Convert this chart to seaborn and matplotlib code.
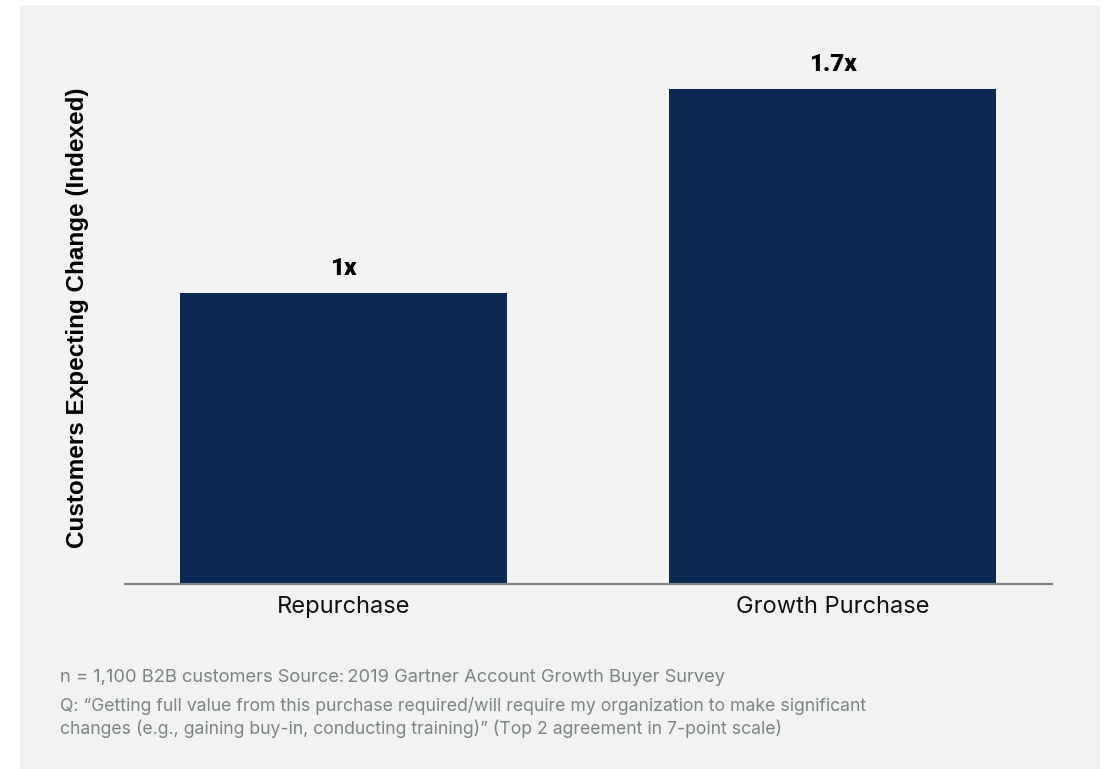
import matplotlib
matplotlib.use("Agg")
import matplotlib.pyplot as plt
from matplotlib.patches import Rectangle
import seaborn as sns
import pandas as pd

categories = ["Repurchase", "Growth Purchase"]
values = [1.0, 1.7]
y_label = "Customers Expecting Change (Indexed)"
footnote_1 = "n = 1,100 B2B customers Source:\u20092019 Gartner Account Growth Buyer Survey"
footnote_2 = ("Q: \u201cGetting full value from this purchase required/will require my organization to make significant\n"
              "changes (e.g., gaining buy-in, conducting training)\u201d (Top 2 agreement in 7-point scale)")

sns.set_theme(style="white")
plt.rcParams["font.family"] = ["Inter", "DejaVu Sans"]

W, H = 1104, 769
fig = plt.figure(figsize=(W / 100, H / 100), dpi=100)
fig.patch.set_facecolor("white")

# light grey panel behind the chart
fig.add_artist(Rectangle((20 / W, 0), 1080 / W, 764 / H, transform=fig.transFigure,
                         facecolor="#f2f2f2", edgecolor="none", zorder=0))

ax = fig.add_axes([125 / W, 185.5 / H, 927 / W, 543.5 / H])
ax.patch.set_alpha(0)

df = pd.DataFrame({"category": categories, "value": values})
sns.barplot(data=df, x="category", y="value", color="#0b2852", saturation=1,
            width=0.669, linewidth=0, ax=ax)

ax.set_xlim(-0.447, 1.449)
ax.set_ylim(0, 1.868)

ax.bar_label(ax.containers[0], labels=[f"{v:g}x" for v in values], padding=9,
             fontsize=17.5, fontweight="black", family=["Roboto", "DejaVu Sans"],
             color="black")

for s in ["top", "right", "left"]:
    ax.spines[s].set_visible(False)
ax.spines["bottom"].set_color("#7d8787")
ax.spines["bottom"].set_linewidth(1.6)
ax.set_yticks([])
ax.set_xlabel("")
ax.tick_params(axis="x", length=0, pad=9, labelsize=17, labelcolor="#111111")

ax.set_ylabel(y_label, fontsize=17.5, fontweight="heavy",
              family=["Liberation Sans", "DejaVu Sans"], color="black")
ax.yaxis.set_label_coords((89 - 125) / 927, 0.4885)

fig.text(60 / W, 1 - 677 / H, footnote_1, fontsize=13.2, color="#7b8585",
         va="center", ha="left")
fig.text(60 / W, 1 - 717.5 / H, footnote_2, fontsize=12.7, color="#7b8585",
         va="center", ha="left", linespacing=1.28)

fig.savefig("out.png", dpi=100)
